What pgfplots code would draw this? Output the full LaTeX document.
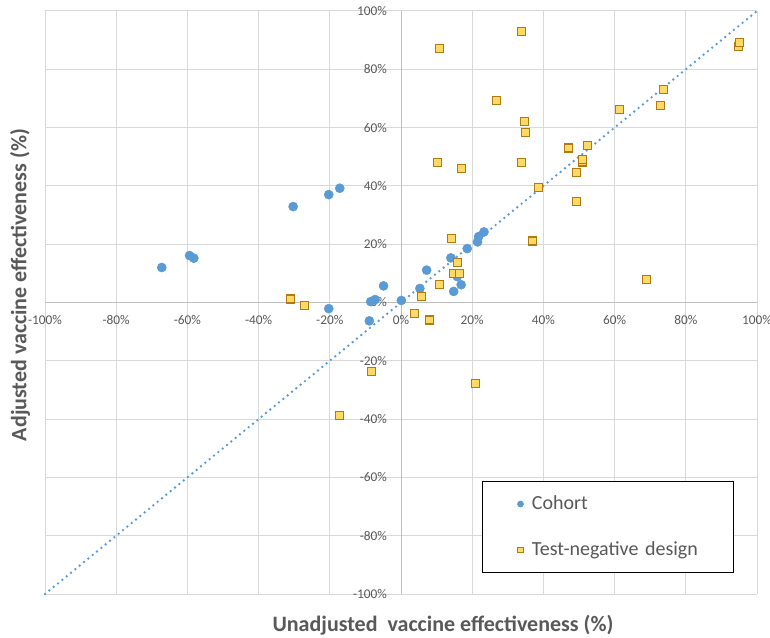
\documentclass[border=0pt]{standalone}
\usepackage{pgfplots}
\pgfplotsset{compat=1.18}
\usepackage{fontspec}
\setmainfont{Carlito}
\definecolor{cohort}{HTML}{5B9BD5}
\definecolor{tndfill}{HTML}{FFD966}
\definecolor{tnddraw}{HTML}{B07A10}
\definecolor{txt}{HTML}{595959}
\definecolor{gridc}{HTML}{D9D9D9}
\definecolor{axc}{HTML}{BFBFBF}
\begin{document}
\begin{tikzpicture}
\path[use as bounding box] (-33.75pt,-33pt) rectangle (543.75pt,445.5pt);
\begin{axis}[
  at={(0,0)}, anchor=south west,
  width=534pt, height=437.25pt, scale only axis,
  xmin=-100, xmax=100, ymin=-100, ymax=100,
  axis lines=middle,
  axis line style={-, draw=axc, line width=0.75pt},
  hide obscured x ticks=false, hide obscured y ticks=false,
  xtick={-100,-80,...,100}, ytick={-100,-80,...,100},
  xticklabels={-100\%,-80\%,-60\%,-40\%,-20\%,0\%,20\%,40\%,60\%,80\%,100\%},
  yticklabels={-100\%,-80\%,-60\%,-40\%,-20\%,0\%,20\%,40\%,60\%,80\%,100\%},
  major tick length=0pt,
  tick label style={font=\fontsize{10}{12}\selectfont, text=txt},
  xticklabel style={anchor=center, yshift=-13.5pt},
  yticklabel style={anchor=east, xshift=-7pt},
  grid=major, grid style={draw=gridc, line width=0.75pt},
  xlabel={Unadjusted\ \ vaccine effectiveness (\%)},
  ylabel={Adjusted vaccine effectiveness (\%)},
  every axis x label/.style={at={(rel axis cs:0.559,-0.0532)}, anchor=center, font=\bfseries\fontsize{16.5}{19}\selectfont, text=txt},
  every axis y label/.style={at={(rel axis cs:-0.0351,0.53)}, anchor=center, rotate=90, font=\bfseries\fontsize{16.5}{19}\selectfont, text=txt},
  clip=false,
  legend style={at={(axis cs:22.75,-61.1)}, anchor=north west, draw=black, line width=0.75pt,
    fill=white, inner xsep=18.75pt, inner ysep=10.2pt, row sep=20.5pt, column sep=6.35pt,
    nodes={inner sep=0pt, text width=132.75pt, align=left, text height=11pt, text depth=3pt,
      font=\fontsize{15}{18}\selectfont, text=txt}},
  legend cell align=left,
  legend image code/.code={\path[draw=none,fill=none] (-9.75pt,0pt) -- (2.2pt,0pt); \path[#1, mark size=2.1pt] plot coordinates {(0pt,0pt)};},
]
\addplot[forget plot, cohort, line width=2pt, line cap=round, dash pattern=on 0pt off 4.2pt] coordinates {(-100,-100) (100,100)};
\addplot[only marks, mark=*, mark size=3.4pt, draw=cohort, fill=cohort] coordinates {
(-67.2,12.0) (-59.4,16.1) (-58.2,15.2) (-30.3,32.9) (-20.3,37.0) (-17.2,39.2)
(-4.9,5.7) (-8.5,0.3) (-7.3,1.0) (-20.3,-2.1) (-8.9,-6.3) (0.1,0.7)
(5.3,4.8) (7.2,11.1) (14.0,15.3) (15.8,8.9) (14.8,3.8) (16.9,6.1)
(18.6,18.5) (21.5,20.8) (21.8,22.6) (23.3,24.2)
};
\addlegendentry{Cohort}
\addplot[only marks, mark=square*, mark size=3pt, mark options={draw=tnddraw, fill=tndfill, line width=0.8pt}] coordinates {
(-31.1,1.2) (-27.0,-1.0) (-8.4,-23.8) (-17.3,-38.8) (20.8,-27.9) (3.7,-3.9)
(7.9,-6.0) (5.8,2.1) (10.7,6.1) (14.7,10.1) (16.4,10.1) (15.8,13.8)
(14.2,22.0) (36.9,21.1) (38.5,39.5) (10.2,48.0) (16.9,46.1) (33.8,48.0)
(49.4,34.6) (49.4,44.7) (51.0,48.2) (51.1,49.2) (47.1,53.0) (52.5,53.9)
(35.0,58.4) (34.6,62.0) (26.9,69.2) (61.4,66.1) (73.0,67.7) (73.8,73.1)
(94.8,87.9) (95.0,89.2) (10.7,87.0) (33.8,93.0) (68.9,8.0)
};
\addlegendentry{Test-negative design}
\end{axis}
\end{tikzpicture}
\end{document}
